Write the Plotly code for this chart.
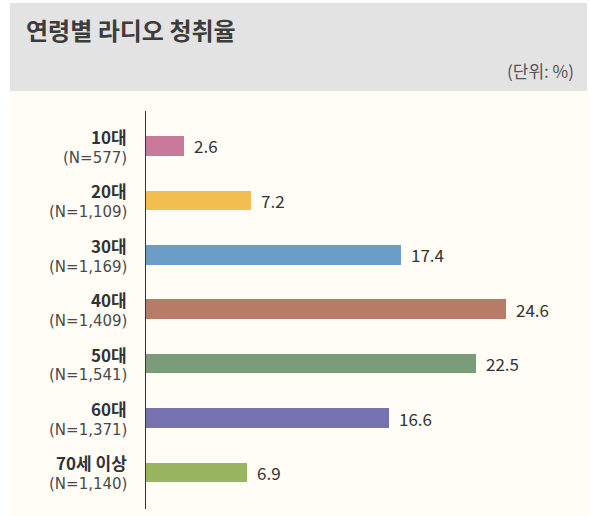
import plotly.graph_objects as go

# Radio listening rate by age group (%)
age_groups = ["10대", "20대", "30대", "40대", "50대", "60대", "70세 이상"]
sample_sizes = ["577", "1,109", "1,169", "1,409", "1,541", "1,371", "1,140"]
listening_rate = [2.6, 7.2, 17.4, 24.6, 22.5, 16.6, 6.9]
bar_colors = ["#c8799a", "#f0bf50", "#6a9dc8", "#b87b68", "#7a9c78", "#7672b0", "#98b55f"]

W, H = 590, 516
FONT = "Noto Sans CJK KR"
FONT_NUM = "DejaVu Sans"

# plot area in page pixels
ax_left, ax_right = 146, 590
ax_top, ax_bottom = 111, 509
px_per_unit = 14.65
cat_first, cat_step = 146, 54.4


def px_x(p):
    return p / W


def px_y(p):
    return 1 - p / H


x_max = (ax_right - ax_left) / px_per_unit
y_lo = (ax_top - cat_first) / cat_step
y_hi = (ax_bottom - cat_first) / cat_step

fig = go.Figure(
    go.Bar(
        y=age_groups,
        x=listening_rate,
        orientation="h",
        marker=dict(color=bar_colors, line=dict(width=0)),
        width=0.36,
        hoverinfo="skip",
    )
)

annotations = []
for grp, n, val in zip(age_groups, sample_sizes, listening_rate):
    # category label: bold group name over the sample size
    annotations.append(dict(
        x=px_x(129), xref="paper", xanchor="right",
        y=grp, yref="y", yanchor="middle", yshift=9.5,
        text=f"<b>{grp}</b>", showarrow=False,
        font=dict(family=FONT, size=17, color="#333333"),
    ))
    annotations.append(dict(
        x=px_x(129), xref="paper", xanchor="right",
        y=grp, yref="y", yanchor="middle", yshift=-11.7,
        text=f"(N={n})", showarrow=False,
        font=dict(family=FONT_NUM, size=15, color="#4a4a4a"),
    ))
    annotations.append(dict(
        x=val, xref="x", xanchor="left", xshift=8,
        y=grp, yref="y", yanchor="middle",
        text=f"{val}", showarrow=False,
        font=dict(family=FONT, size=17, color="#333333"),
    ))

# header title and unit note
annotations.append(dict(
    x=px_x(24), xref="paper", xanchor="left",
    y=px_y(30), yref="paper", yanchor="middle",
    text="<b>연령별 라디오 청취율</b>", showarrow=False,
    font=dict(family=FONT, size=24, color="#3c3c3c"),
))
annotations.append(dict(
    x=px_x(576), xref="paper", xanchor="right",
    y=px_y(70), yref="paper", yanchor="middle",
    text="(단위: %)", showarrow=False,
    font=dict(family=FONT, size=17, color="#555555"),
))

shapes = [
    # cream panel
    dict(type="rect", xref="paper", yref="paper", layer="below",
         x0=px_x(10), x1=px_x(590), y0=px_y(516), y1=px_y(91),
         fillcolor="#fffdf6", line=dict(width=0)),
    # grey header band
    dict(type="rect", xref="paper", yref="paper", layer="below",
         x0=px_x(10), x1=px_x(587), y0=px_y(91), y1=px_y(3),
         fillcolor="#e3e3e3", line=dict(width=0)),
]

fig.update_layout(
    width=W, height=H,
    margin=dict(l=0, r=0, t=0, b=0),
    paper_bgcolor="#ffffff",
    plot_bgcolor="rgba(0,0,0,0)",
    showlegend=False,
    bargap=0,
    annotations=annotations,
    shapes=shapes,
    xaxis=dict(
        domain=[px_x(ax_left), px_x(ax_right)],
        range=[0, x_max],
        showgrid=False, zeroline=False, showticklabels=False,
        showline=False, fixedrange=True,
    ),
    yaxis=dict(
        domain=[px_y(ax_bottom), px_y(ax_top)],
        type="category",
        categoryorder="array", categoryarray=age_groups,
        range=[y_hi, y_lo],
        showgrid=False, zeroline=False, showticklabels=False,
        showline=True, linecolor="#333333", linewidth=1,
        fixedrange=True,
    ),
)

fig.write_html("out.html", config={"displayModeBar": False})
